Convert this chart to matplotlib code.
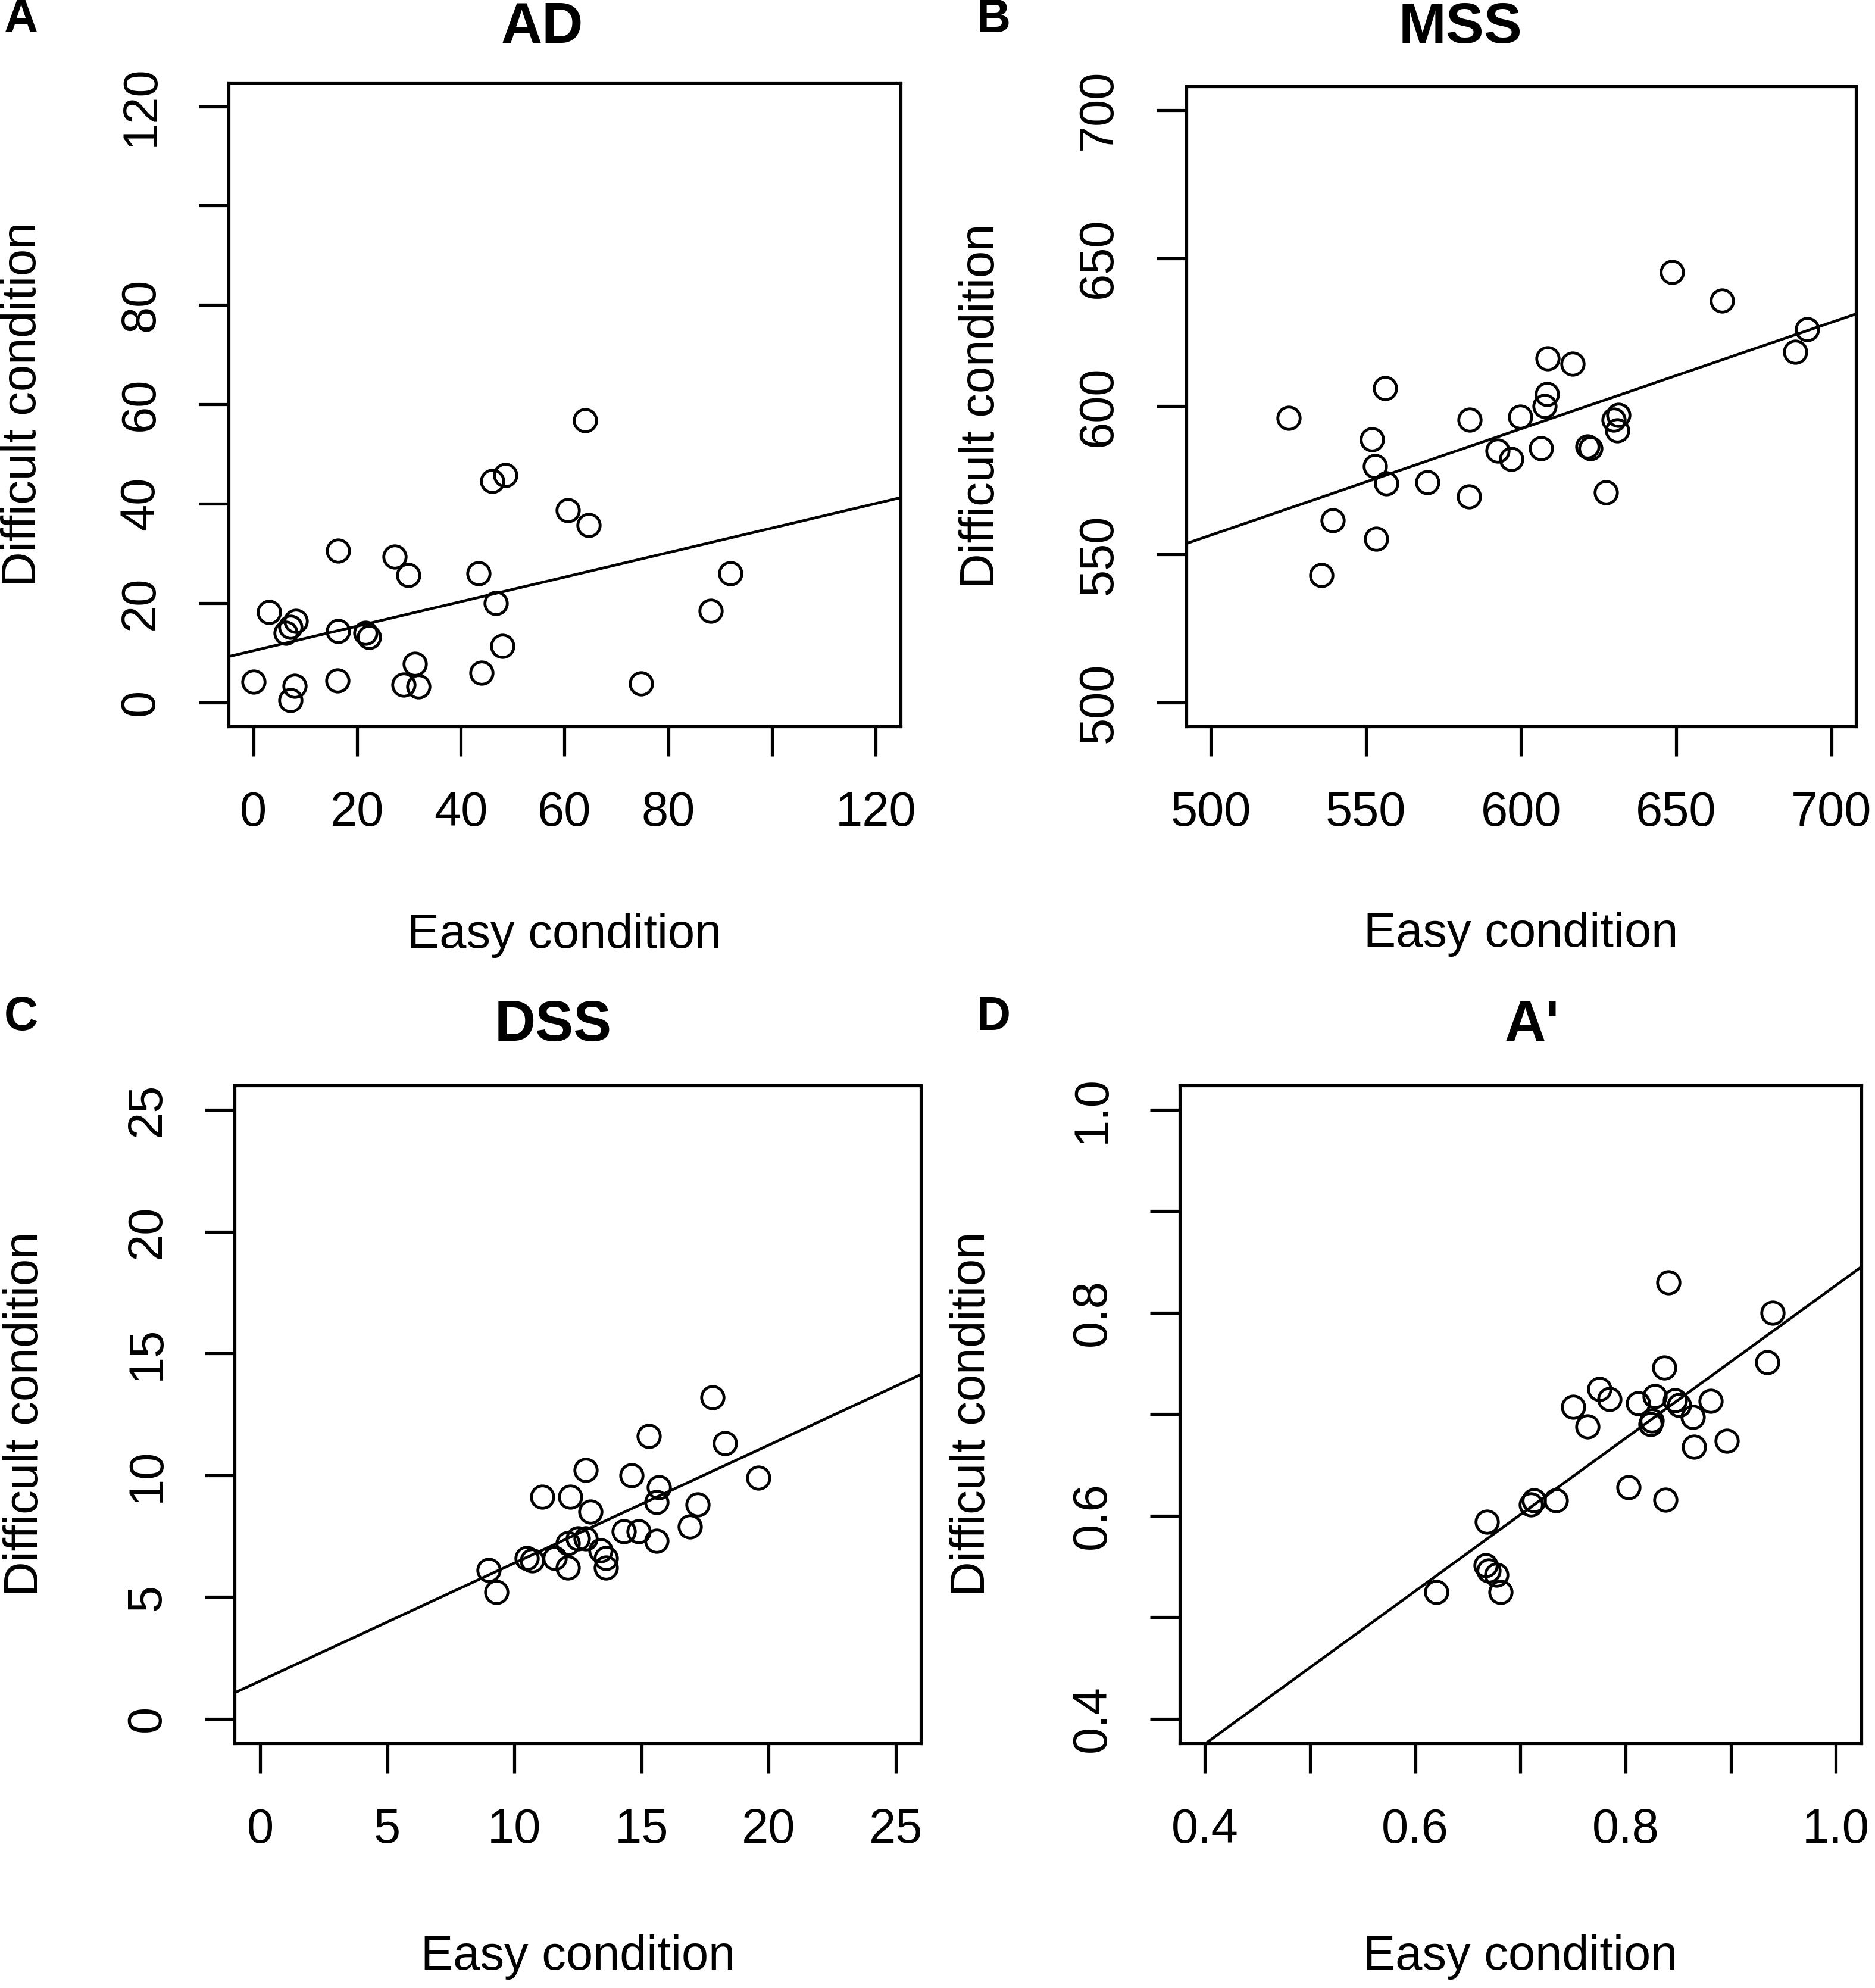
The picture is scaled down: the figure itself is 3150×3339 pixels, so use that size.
import matplotlib
matplotlib.use("Agg")
import matplotlib.pyplot as plt

plt.rcParams['font.family'] = ['Liberation Sans', 'DejaVu Sans']

# --- Dados ---
ad_easy = [0, 3.0, 6.3, 7.2, 8.2, 8.0, 7.2, 16.4, 16.4, 16.2, 21.6, 22.3, 27.2,
           29.9, 29.0, 31.2, 31.8, 43.4, 44.0, 46.1, 48.6, 46.8, 48.0, 64.0,
           60.6, 64.6, 74.7, 88.2, 92.0]
ad_diff = [4.1, 18.2, 14.0, 15.2, 16.4, 3.3, 0.5, 30.5, 14.4, 4.4, 14.0, 13.1, 29.3,
           25.6, 3.6, 7.8, 3.2, 26.0, 6.0, 44.6, 45.7, 20.0, 11.3, 56.8,
           38.7, 35.7, 3.8, 18.4, 26.0]

mss_easy = [648.7, 664.8, 692.2, 688.3, 608.6, 616.7, 556.1, 608.3, 607.6, 525.0,
            583.4, 599.8, 631.3, 629.9, 631.1, 551.9, 552.9, 556.5, 569.7, 592.5,
            596.9, 606.4, 621.4, 622.3, 583.3, 627.3, 539.2, 553.3, 535.7]
mss_diff = [645.3, 635.6, 626.0, 618.4, 616.1, 614.3, 606.0, 604.0, 600.0, 596.0,
            595.5, 596.4, 597.0, 595.5, 591.9, 588.8, 579.8, 574.0, 574.4, 585.0,
            582.1, 585.7, 586.5, 585.7, 569.5, 570.9, 561.4, 555.3, 543.0]

dss_easy = [17.8, 15.3, 18.3, 12.8, 14.6, 19.6, 11.1, 12.2, 15.7, 15.6, 13.0, 17.2,
            16.9, 14.3, 14.9, 15.6, 9.0, 9.3, 10.5, 10.7, 11.6, 12.1, 12.1, 12.5,
            12.8, 13.4, 13.6, 13.6]
dss_diff = [13.2, 11.6, 11.3, 10.2, 10.0, 9.9, 9.1, 9.1, 9.5, 8.9, 8.5, 8.8,
            7.9, 7.7, 7.7, 7.3, 6.1, 5.2, 6.6, 6.5, 6.6, 6.2, 7.2, 7.4,
            7.4, 6.9, 6.6, 6.2]

ap_easy = [0.620, 0.668, 0.667, 0.670, 0.677, 0.681, 0.710, 0.713, 0.734, 0.750,
           0.764, 0.775, 0.785, 0.803, 0.812, 0.825, 0.824, 0.828, 0.837, 0.838,
           0.841, 0.847, 0.851, 0.864, 0.865, 0.881, 0.896, 0.935, 0.940]
ap_diff = [0.525, 0.594, 0.551, 0.546, 0.542, 0.525, 0.611, 0.615, 0.615, 0.707,
           0.688, 0.725, 0.715, 0.628, 0.711, 0.694, 0.690, 0.718, 0.746, 0.616,
           0.830, 0.714, 0.709, 0.697, 0.668, 0.713, 0.674, 0.751, 0.800]

# retas de regressão (intercepto, inclinação)
linha_ad = (10.4, 0.247)
linha_mss = (377.0, 0.359)
linha_dss = (1.55, 0.484)
linha_ap = (0.074, 0.753)

# ticks: (posições, rótulos)
ticks_ad = ([0, 20, 40, 60, 80, 100, 120], ['0', '20', '40', '60', '80', '', '120'])
ticks_mss = ([500, 550, 600, 650, 700], ['500', '550', '600', '650', '700'])
ticks_dss = ([0, 5, 10, 15, 20, 25], ['0', '5', '10', '15', '20', '25'])
ticks_ap = ([0.4, 0.5, 0.6, 0.7, 0.8, 0.9, 1.0], ['0.4', '', '0.6', '', '0.8', '', '1.0'])

# --- Figura ---
fig = plt.figure(figsize=(10.5, 11.13), dpi=300)

paineis = [
    # letra, titulo, x, y, linha, ticks, limites, [l, b, w, h], pos titulo, pos letra
    ('A', 'AD', ad_easy, ad_diff, linha_ad, ticks_ad, (-4.8, 124.8),
     [0.1218, 0.6347, 0.3586, 0.3238], (0.289, 0.986), (0.002, 0.990)),
    ('B', 'MSS', mss_easy, mss_diff, linha_mss, ticks_mss, (492, 708),
     [0.6326, 0.6347, 0.3573, 0.3219], (0.779, 0.986), (0.521, 0.990)),
    ('C', 'DSS', dss_easy, dss_diff, linha_dss, ticks_dss, (-1, 26),
     [0.1252, 0.1232, 0.3660, 0.3308], (0.295, 0.484), (0.002, 0.488)),
    ('D', "A'", ap_easy, ap_diff, linha_ap, ticks_ap, (0.376, 1.024),
     [0.6292, 0.1232, 0.3634, 0.3308], (0.817, 0.484), (0.521, 0.488)),
]

for letra, titulo, xs, ys, (b0, b1), (tpos, tlab), lim, rect, tp, lp in paineis:
    ax = fig.add_axes(rect)
    ax.plot(xs, ys, 'o', ms=9, mfc='none', mec='black', mew=1.15)
    ax.axline((0, b0), slope=b1, color='black', lw=1.1)
    ax.set_xlim(lim)
    ax.set_ylim(lim)
    ax.set_xticks(tpos)
    ax.set_xticklabels(tlab)
    ax.set_yticks(tpos)
    ax.set_yticklabels(tlab, rotation=90, va='center')
    for s in ax.spines.values():
        s.set_linewidth(1.25)
    ax.tick_params(direction='out', length=12, width=1.25, pad=14, labelsize=19.5)
    ax.set_xlabel('Easy condition', fontsize=19.5)
    ax.set_ylabel('Difficult condition', fontsize=19.5)
    ax.xaxis.set_label_coords(0.5, -0.325)
    ax.yaxis.set_label_coords(-0.305, 0.5)
    ax.xaxis.label.set_va('center')
    ax.yaxis.label.set_va('center')
    fig.text(tp[0], tp[1], titulo, fontsize=23, fontweight='bold', ha='center', va='center')
    fig.text(lp[0], lp[1], letra, fontsize=19, fontweight='bold', ha='left', va='center')

fig.savefig('out.png', dpi=300)
